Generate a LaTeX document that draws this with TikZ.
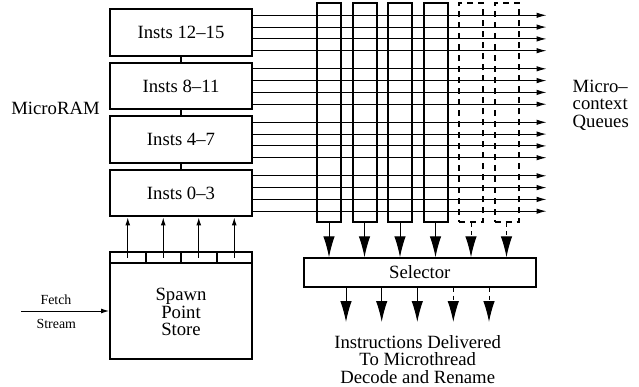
\documentclass[tikz,border=0pt]{standalone}
\usepackage{fontspec}
\setmainfont{Liberation Serif}
\usetikzlibrary{arrows.meta}
\begin{document}
\begin{tikzpicture}[x=1pt,y=-1pt,
  txt/.style={font=\fontsize{18.7}{17.5}\selectfont,inner sep=0pt,align=center},
  smalltxt/.style={font=\fontsize{13.9}{15}\selectfont,inner sep=0pt},
  instbox/.style={draw,line width=2pt,inner sep=0pt,minimum width=142pt,minimum height=46.5pt,txt},
  queue/.style={draw,line width=2pt,inner sep=0pt,minimum width=24pt,minimum height=219pt},
  dqueue/.style={queue,dash pattern=on 6pt off 5pt},
  thin/.style={line width=1pt},
  qarrow/.style={thin,-{Latex[length=10pt,width=5.5pt]}},
  bigarrow/.style={thin,-{Latex[length=21pt,width=11.5pt]}},
  uparrow/.style={thin,-{Latex[length=8pt,width=5pt]}},
  dstem/.style={dash pattern=on 4pt off 4pt},
  link/.style={line width=2pt}
]
\useasboundingbox (0,0) rectangle (639,387);

% MicroRAM boxes
\node[instbox] (b3) at (181,32.75) {Insts 12–15};
\node[instbox] (b2) at (181,86.25) {Insts 8–11};
\node[instbox] (b1) at (181,139.75) {Insts 4–7};
\node[instbox] (b0) at (181,193.25) {Insts 0–3};
\draw[link] (b3.south) -- (b2.north);
\draw[link] (b2.south) -- (b1.north);
\draw[link] (b1.south) -- (b0.north);
\node[txt] (mram) at (55.5,108) {MicroRAM};

% queues
\foreach \i in {1,...,4} {
  \node[queue] (q\i) at ({329+35.5*(\i-1)},112.8) {};
}
\foreach \i in {5,6} {
  \node[dqueue] (q\i) at ({329+35.5*(\i-1)},112.8) {};
}

% horizontal lines
\foreach \b/\t in {b3/9.5,b2/63,b1/116.5,b0/170} {
  \foreach \k in {0,1,2,3} {
    \coordinate (end-\b-\k) at (546.5,{\t+5.8+11.8*\k});
    \draw[qarrow] (\b.east |- end-\b-\k) -- (end-\b-\k);
  }
}
\node[txt,anchor=west,align=left] (mcq) at (572.5,105) {Micro–\\context\\Queues};

% selector
\node[draw,line width=2pt,inner sep=0pt,minimum width=232.5pt,minimum height=28.4pt,txt] (sel) at (419.75,272.5) {Selector};
\foreach \i in {1,...,4} {
  \draw[bigarrow] (q\i.south) -- (q\i.south |- sel.north);
}
\foreach \i in {5,6} {
  \draw[bigarrow,dstem] (q\i.south) -- (q\i.south |- sel.north);
}
\foreach \i/\x in {1/346,2/381.7,3/417.3,4/453.3,5/489} {
  \coordinate (o\i) at (\x,322);
}
\foreach \i in {1,2,3} {
  \draw[bigarrow] (sel.south -| o\i) -- (o\i);
}
\foreach \i in {4,5} {
  \draw[bigarrow,dstem] (sel.south -| o\i) -- (o\i);
}
\node[txt] (out) at (417.7,359.3) {Instructions Delivered\\To Microthread\\Decode and Rename};

% spawn point store
\node[draw,line width=2pt,inner sep=0pt,minimum width=142pt,minimum height=106.7pt] (spawn) at (181,305.65) {};
\coordinate (hdr) at (181,263.3);
\draw[line width=2pt] (spawn.west |- hdr) -- (spawn.east |- hdr);
\foreach \x in {145.5,181,216.5} {
  \draw[line width=2pt] (\x,252.3) -- (\x,263.3);
}
\foreach \i/\x in {1/127.75,2/163.25,3/198.75,4/234.25} {
  \coordinate (s\i) at (\x,257.7);
  \draw[uparrow] (s\i) -- (s\i |- b0.south);
}
\node[txt] (sptxt) at (181,312.3) {Spawn\\Point\\Store};
\coordinate (fin) at (21,311);
\draw[uparrow] (fin) -- (spawn.west |- fin);
\node[smalltxt] (fetch) at (56,300) {Fetch};
\node[smalltxt] (stream) at (56.3,324) {Stream};
\end{tikzpicture}
\end{document}
